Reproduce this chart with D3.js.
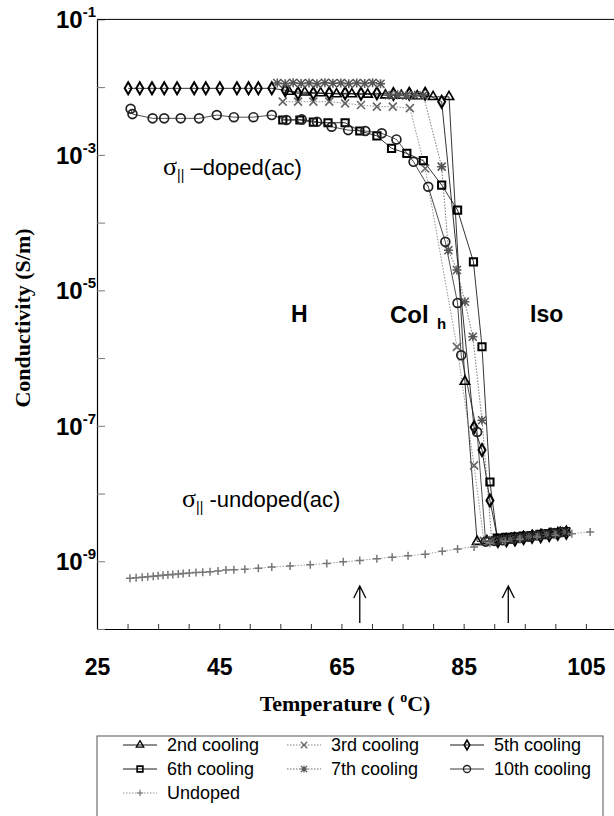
<!DOCTYPE html>
<html><head><meta charset="utf-8">
<script src="https://cdn.jsdelivr.net/npm/d3@7"></script>
<style>body{margin:0;background:#fff}</style>
</head><body><svg id="c" width="614" height="816"></svg>
<script>
// ---------------- data ----------------
const xTickValues = [25,30,35,40,45,50,55,60,65,70,75,80,85,90,95,100,105];
const xTickLabels = [25,45,65,85,105];
const yTickExps = [-1,-2,-3,-4,-5,-6,-7,-8,-9,-10];
const yLabelExps = [-1,-3,-5,-7,-9];

const cool2T = [56.4,59.0,61.6,64.2,66.7,69.3,72.2,74.8,77.4,80.0,82.6,85.2,87.2,88.8,90.3,91.8,93.3,94.8,96.3,97.8,99.3,100.8];
const cool2S = [8.6e-3,8.4e-3,8.2e-3,7.9e-3,7.9e-3,7.8e-3,7.6e-3,7.5e-3,7.4e-3,7.2e-3,7.2e-3,4.5e-7,1.95e-9,2.0e-9,2.05e-9,2.1e-9,2.2e-9,2.3e-9,2.35e-9,2.45e-9,2.55e-9,2.65e-9];

const cool3T = [55.4,57.9,60.4,63.0,65.6,68.2,70.8,73.4,76.2,78.7,83.9,86.7,88.3,89.8,91.3,92.8,94.3,95.8,97.3,98.8,100.3,101.8];
const cool3S = [6.1e-3,6.1e-3,6.1e-3,6.1e-3,5.75e-3,5.45e-3,5.15e-3,5.15e-3,4.9e-3,6.3e-4,1.46e-6,2.6e-8,2.0e-9,2.05e-9,2.1e-9,2.15e-9,2.25e-9,2.35e-9,2.4e-9,2.5e-9,2.6e-9,2.7e-9];

const cool5T = [30.1,32.0,34.0,36.0,38.1,40.9,42.8,45.1,47.9,49.8,51.4,53.6,55.8,57.9,60.4,63.0,65.6,68.2,70.8,73.5,76.1,78.7,81.4,86.7,88.0,89.3,90.6,92.0,93.4,94.8,96.2,97.6,99.0,100.4,101.8];
const cool5S = [9.6e-3,9.6e-3,9.6e-3,9.6e-3,9.6e-3,9.6e-3,9.6e-3,9.6e-3,9.6e-3,9.6e-3,9.6e-3,9.6e-3,9.0e-3,8.1e-3,8.1e-3,8.1e-3,8.1e-3,8.0e-3,8.1e-3,7.9e-3,8.0e-3,8.0e-3,6.1e-3,9.5e-8,4.4e-8,7.9e-9,2.0e-9,2.05e-9,2.1e-9,2.2e-9,2.3e-9,2.35e-9,2.45e-9,2.55e-9,2.65e-9];

const cool6T = [55.4,58.2,60.4,62.8,65.6,68.0,70.8,73.2,75.7,78.4,81.4,84.0,86.6,88.0,89.3,90.5,91.9,93.3,94.7,96.1,97.5,98.9,100.3,101.7];
const cool6S = [3.27e-3,3.27e-3,3.05e-3,2.98e-3,2.98e-3,2.25e-3,1.91e-3,1.25e-3,1.05e-3,8.2e-4,3.58e-4,1.53e-4,2.64e-5,1.47e-6,1.48e-8,2.2e-9,2.25e-9,2.3e-9,2.35e-9,2.4e-9,2.5e-9,2.55e-9,2.65e-9,2.75e-9];

const cool7T = [54.5,55.8,57.1,58.4,59.7,61.0,62.3,63.6,64.9,66.2,67.5,68.8,70.1,71.4,72.8,74.2,75.6,77.0,78.4,81.4,82.5,83.9,85.2,86.5,88.0,89.6,91.1,92.6,94.1,95.6,97.1,98.6,100.1,101.6];
const cool7S = [1.15e-2,1.12e-2,1.16e-2,1.13e-2,1.15e-2,1.12e-2,1.16e-2,1.14e-2,1.15e-2,1.12e-2,1.15e-2,1.13e-2,1.16e-2,1.12e-2,7.6e-3,7.7e-3,7.5e-3,7.6e-3,7.6e-3,6.7e-4,3.9e-5,2.0e-5,6.8e-6,2.06e-6,1.21e-7,2.0e-9,2.05e-9,2.1e-9,2.2e-9,2.3e-9,2.4e-9,2.5e-9,2.6e-9,2.7e-9];

const cool10T = [30.5,30.8,34.1,36.0,38.7,41.7,44.6,47.4,50.6,53.6,56.0,58.5,61.0,63.4,66.1,68.9,71.6,74.0,76.8,79.2,82.0,84.0,84.6,87.2,88.6,90.0,91.4,92.8,94.2,95.6,97.0,98.4,99.8,101.2];
const cool10S = [4.8e-3,4.0e-3,3.46e-3,3.46e-3,3.46e-3,3.46e-3,3.87e-3,3.6e-3,3.6e-3,3.87e-3,3.27e-3,3.34e-3,3.08e-3,2.6e-3,2.32e-3,2.25e-3,2.08e-3,1.69e-3,7.9e-4,3.38e-4,5.2e-5,6.5e-6,1.1e-6,8.1e-8,1.95e-9,2.0e-9,2.05e-9,2.15e-9,2.2e-9,2.3e-9,2.4e-9,2.5e-9,2.6e-9,2.7e-9];

const undopedT = [30.4,31.4,32.4,33.3,34.2,35.0,35.8,36.6,37.4,38.3,39.1,40.1,41.2,42.3,43.5,44.8,46.1,47.4,49.2,51.4,53.6,56.6,59.9,62.6,65.3,68.0,70.8,73.3,75.9,78.7,81.5,84.0,86.7,89.3,91.8,94.2,97.0,100.0,102.7,105.7];
const undopedS = [5.6e-10,5.7e-10,5.8e-10,5.9e-10,6.0e-10,6.1e-10,6.2e-10,6.3e-10,6.4e-10,6.5e-10,6.6e-10,6.7e-10,6.8e-10,6.9e-10,7.0e-10,7.2e-10,7.4e-10,7.5e-10,7.6e-10,7.9e-10,8.2e-10,8.5e-10,8.9e-10,9.3e-10,9.8e-10,1.03e-9,1.09e-9,1.15e-9,1.21e-9,1.27e-9,1.41e-9,1.52e-9,1.63e-9,1.84e-9,1.98e-9,2.12e-9,2.28e-9,2.43e-9,2.55e-9,2.71e-9];

const arrowT = [68.0, 92.3];

// ---------------- setup ----------------
const svg = d3.select("#c");
const x = d3.scaleLinear().domain([25, 109.6]).range([97, 614]);
const y = d3.scaleLog().domain([1e-10, 1e-1]).range([629, 19.4]);

const series = [
  {name:"2nd cooling", t:cool2T, s:cool2S, mark:"tri", color:"#000", dash:null, mcol:"#000"},
  {name:"3rd cooling", t:cool3T, s:cool3S, mark:"x", color:"#777", dash:"1.5,1.5", mcol:"#666"},
  {name:"5th cooling", t:cool5T, s:cool5S, mark:"diamond", color:"#000", dash:null, mcol:"#000"},
  {name:"6th cooling", t:cool6T, s:cool6S, mark:"square", color:"#000", dash:null, mcol:"#000"},
  {name:"7th cooling", t:cool7T, s:cool7S, mark:"star", color:"#555", dash:"1.5,1.5", mcol:"#555"},
  {name:"10th cooling", t:cool10T, s:cool10S, mark:"circle", color:"#222", dash:null, mcol:"#222"},
  {name:"Undoped", t:undopedT, s:undopedS, mark:"plus", color:"#888", dash:"1.5,1.5", mcol:"#777"}
];

const markPath = {
  tri: d3.symbol(d3.symbolTriangle, 38)(),
  diamond: d3.symbol(d3.symbolDiamond, 42)(),
  square: d3.symbol(d3.symbolSquare, 52)(),
  circle: d3.symbol(d3.symbolCircle, 62)(),
  x: "M-4,-4L4,4M-4,4L4,-4",
  star: "M-4,-4L4,4M-4,4L4,-4M-4.5,0L4.5,0M0,-4.5L0,4.5",
  plus: "M-4,0L4,0M0,-4L0,4"
};
const markWidth = {tri:1.6, diamond:2, square:2, circle:1.7, x:1.6, star:1.5, plus:1.5};

// ---------------- axes ----------------
const xAxis = d3.axisBottom(x).tickValues(xTickValues).tickSizeInner(-5).tickSizeOuter(0)
  .tickPadding(30).tickFormat(d => xTickLabels.includes(d) ? d : "");
const gx = svg.append("g").attr("transform","translate(0,629)").call(xAxis);
gx.select(".domain").attr("stroke","#000").attr("stroke-width",1.2);
gx.selectAll(".tick line").attr("stroke","#333");
gx.selectAll("text").attr("font-family","Liberation Sans, Arial, sans-serif")
  .attr("font-weight","bold").attr("font-size",23).attr("fill","#000");

const yAxis = d3.axisLeft(y).tickValues(yTickExps.map(e => Math.pow(10,e))).tickSizeInner(-8)
  .tickSizeOuter(0).tickFormat("");
const gy = svg.append("g").attr("transform","translate(97,0)").call(yAxis);
gy.select(".domain").attr("stroke","#000").attr("stroke-width",1.2);
gy.selectAll(".tick line").attr("stroke","#777");

// top frame line
svg.append("line").attr("x1",x(25)).attr("x2",x(109.6)).attr("y1",y(1e-1)).attr("y2",y(1e-1))
  .attr("stroke","#000").attr("stroke-width",1);

// y labels with superscripts
yLabelExps.forEach(e => {
  const t = svg.append("text").attr("x",96).attr("y",y(Math.pow(10,e))+9)
    .attr("text-anchor","end").attr("font-family","Liberation Sans, Arial, sans-serif")
    .attr("font-weight","bold").attr("fill","#000");
  t.append("tspan").attr("font-size",24).text("10");
  t.append("tspan").attr("font-size",15).attr("dy",-11).text(String(e));
});

// axis titles
const tt = svg.append("text").attr("x",345).attr("y",711).attr("text-anchor","middle")
  .attr("font-family","Liberation Serif, Times New Roman, serif").attr("font-weight","bold").attr("font-size",22);
tt.append("tspan").text("Temperature ( ");
tt.append("tspan").attr("font-size",14).attr("dy",-9).text("o");
tt.append("tspan").attr("dy",9).text("C)");

svg.append("text").attr("transform","translate(30,318) rotate(-90)").attr("text-anchor","middle")
  .attr("font-family","Liberation Serif, Times New Roman, serif").attr("font-weight","bold")
  .attr("font-size",22).text("Conductivity (S/m)");

// ---------------- data lines + markers ----------------
const line = d3.line().x(d => x(d[0])).y(d => y(d[1]));
const plot = svg.append("g");
series.forEach(sr => {
  const pts = sr.t.map((t,i) => [t, sr.s[i]]);
  plot.append("path").attr("d", line(pts)).attr("fill","none").attr("stroke",sr.color)
    .attr("stroke-width",0.8).attr("stroke-dasharray",sr.dash);
});
series.forEach(sr => {
  const pts = sr.t.map((t,i) => [t, sr.s[i]]);
  plot.append("g").selectAll("path").data(pts).join("path")
    .attr("transform", d => `translate(${x(d[0])},${y(d[1])})`)
    .attr("d", markPath[sr.mark]).attr("fill","none").attr("stroke",sr.mcol)
    .attr("stroke-width",markWidth[sr.mark]);
});

// ---------------- annotations ----------------
const sans = "Liberation Sans, Arial, sans-serif";
function sigma(xp, yp, rest){
  const t = svg.append("text").attr("x",xp).attr("y",yp).attr("fill","#000");
  t.append("tspan").attr("font-family","Liberation Serif, serif").attr("font-size",26).text("σ");
  t.append("tspan").attr("font-family",sans).attr("font-size",14).attr("dy",5).text("||");
  t.append("tspan").attr("font-family",sans).attr("font-size",22).attr("dy",-5).text(rest);
}
sigma(163,175," –doped(ac)");
sigma(182,507," -undoped(ac)");

function bold(txt, xp, yp, fs){
  svg.append("text").attr("x",xp).attr("y",yp).attr("font-family",sans).attr("font-weight","bold")
    .attr("font-size",fs).text(txt);
}
bold("H",291,322,23);
bold("Col",390,323,24);
bold("h",437,329,15);
bold("Iso",530,322,23);

arrowT.forEach(t => {
  const xp = x(t);
  svg.append("path").attr("d",`M${xp},623L${xp},586M${xp-6},598L${xp},586L${xp+6},598`)
    .attr("fill","none").attr("stroke","#000").attr("stroke-width",1.3);
});

// ---------------- legend ----------------
const lg = svg.append("g");
lg.append("rect").attr("x",97).attr("y",736).attr("width",506).attr("height",100)
  .attr("fill","#fff").attr("stroke","#555").attr("stroke-width",1);
const colX = [123, 287, 450];
const rowY = [745, 769, 793];
series.forEach((sr,i) => {
  const cx = colX[i%3], cy = rowY[Math.floor(i/3)];
  lg.append("line").attr("x1",cx).attr("x2",cx+34).attr("y1",cy).attr("y2",cy)
    .attr("stroke",sr.color).attr("stroke-width",0.9).attr("stroke-dasharray",sr.dash);
  lg.append("path").attr("transform",`translate(${cx+17},${cy}) scale(0.8)`).attr("d",markPath[sr.mark])
    .attr("fill","none").attr("stroke",sr.mcol).attr("stroke-width",markWidth[sr.mark]);
  lg.append("text").attr("x",cx+44).attr("y",cy+6).attr("font-family",sans).attr("font-size",18)
    .text(sr.name);
});
</script></body></html>
